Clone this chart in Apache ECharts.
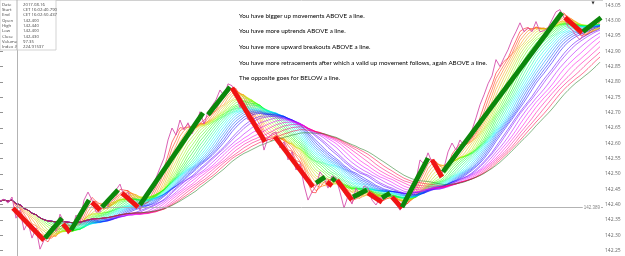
<!DOCTYPE html>
<html><head><meta charset="utf-8">
<script src="https://cdn.jsdelivr.net/npm/echarts@6/dist/echarts.min.js"></script>
<style>html,body{margin:0;padding:0;background:#fff}#c{width:625px;height:256px}</style>
</head><body><div id="c"></div>
<script>
// Price (one value per bar step)
const price = [
142.412,142.418,142.405,142.425,142.356,142.382,142.317,142.343,142.291,142.324,
142.255,142.284,142.297,142.330,142.314,142.369,142.343,142.304,142.317,142.366,
142.350,142.415,142.441,142.415,142.376,142.376,142.405,142.395,142.435,142.448,
142.467,142.428,142.441,142.402,142.408,142.382,142.415,142.428,142.461,142.487,
142.520,142.552,142.611,142.650,142.627,142.676,142.644,142.667,142.631,142.660,
142.703,142.663,142.703,142.722,142.742,142.774,142.755,142.794,142.788,142.755,
142.716,142.729,142.676,142.683,142.637,142.644,142.578,142.618,142.631,142.637,
142.585,142.605,142.546,142.572,142.513,142.533,142.464,142.415,142.441,142.461,
142.507,142.487,142.454,142.494,142.487,142.441,142.389,142.428,142.402,142.454,
142.428,142.461,142.454,142.415,142.399,142.422,142.422,142.441,142.428,142.402,
142.382,142.402,142.431,142.461,142.480,142.546,142.533,142.569,142.539,142.513,
142.487,142.520,142.572,142.601,142.578,142.611,142.592,142.618,142.644,142.683,
142.726,142.758,142.794,142.820,142.873,142.850,142.879,142.905,142.938,142.964,
142.993,142.964,142.977,142.964,142.997,142.964,142.967,142.977,143.003,143.029,
143.036,143.010,142.980,142.971,142.951,142.938,142.958,142.977,142.990,143.003,
143.013];

// Trend segments: [direction, startIndex, startPrice, endIndex, endPrice]
const trendSegments = [
['down',3.25,142.389,11,142.284],
['up',11.25,142.291,15.5,142.356],
['down',15.75,142.337,17.5,142.310],
['up',17.75,142.317,22.25,142.415],
['down',23,142.408,25,142.382],
['up',25.5,142.392,29.5,142.448],
['down',30.5,142.438,34.5,142.392],
['up',35,142.399,50.75,142.699],
['up',52,142.693,57.5,142.784],
['down',58,142.781,66.25,142.605],
['down',68.75,142.621,78.25,142.458],
['up',79,142.471,81.25,142.490],
['down',81.75,142.474,83,142.461],
['up',83,142.477,83.75,142.487],
['down',84.25,142.480,88,142.415],
['up',88.25,142.425,91.75,142.448],
['down',92,142.438,95.5,142.408],
['up',95.5,142.422,97.5,142.438],
['down',98,142.425,100.5,142.389],
['up',100.5,142.392,107,142.552],
['down',108,142.546,110.5,142.490],
['up',110.75,142.507,140.5,143.026],
['down',141.25,143.010,145.5,142.961],
['up',145.75,142.964,150.25,143.010]
];

// Simple moving average periods of the ribbon (fast -> slow)
const maPeriods = [3,4,5,6,7,8,9,10,11,12,13,14,15,16,17,18,19,20,21,22,23,25,26,28,30,32,34,36,38,40];

const infoLabels = ['Date','Start','End','Open','High','Low','Close','Volume','Index #'];
const infoValues = ['2017.08.16','CET 16:02:40.790','CET 16:02:50.437','142.400','142.440','142.400','142.430','97.35','224.91537'];

const notes = [
'You have bigger up movements ABOVE a line.',
'You have more uptrends ABOVE a line.',
'You have more upward breakouts ABOVE a line.',
'You have more retracements after which a valid up movement follows, again ABOVE a line.',
'The opposite goes for BELOW a line.'
];

const cursorIndex = 4.25;
const cursorPrice = 142.389;

function sma(src, n){
  const out = [];
  for (let i=0;i<src.length;i++){
    const s = Math.max(0, i-n+1); let sum = 0;
    for (let j=s;j<=i;j++) sum += src[j];
    out.push(sum/(i-s+1));
  }
  return out;
}
function maColor(k, total){
  if (k === total-1) return '#1f7a1f';
  const h = Math.round(k/(total-2)*345);
  return 'hsl(' + h + ',100%,' + (h>40 && h<80 ? 44 : 50) + '%)';
}

const series = [];
maPeriods.forEach((p,k)=>{
  const m = sma(price, p);
  series.push({type:'line', data:m.map((v,i)=>[i,v]), showSymbol:false, silent:true,
    lineStyle:{width:0.6, opacity:0.9, color:maColor(k, maPeriods.length)}, z:1});
});
series.push({type:'line', data:price.map((v,i)=>[i,v]), showSymbol:false, silent:true,
  lineStyle:{width:0.9, color:'#d64fab'}, z:3,
  markLine:{silent:true, symbol:'none', animation:false,
    lineStyle:{color:'#a0a0a0', width:0.8, type:'solid'},
    label:{show:false},
    data:[{xAxis:cursorIndex},
          {yAxis:cursorPrice, label:{show:true, position:'insideEnd', formatter:cursorPrice.toFixed(3),
            fontSize:4.5, color:'#888', backgroundColor:'#fff', padding:[0,1], distance:2}}]}
});
trendSegments.forEach(s=>{
  series.push({type:'line', data:[[s[1],s[2]],[s[3],s[4]]], showSymbol:false, silent:true,
    lineStyle:{width:4.8, color: s[0]==='up' ? '#0b870b' : '#f01414', cap:'butt'}, z:5});
});

const graphic = [];
graphic.push({type:'line', shape:{x1:0,y1:0.5,x2:603,y2:0.5}, style:{stroke:'#d0d0d0', lineWidth:1}, z:50});
graphic.push({type:'text', x:593, y:3, style:{text:'▼', font:'4px "DejaVu Sans"', fill:'#333', align:'center', verticalAlign:'middle'}, z:62});
graphic.push({type:'rect', shape:{x:0,y:0,width:56,height:50}, style:{fill:'#fff', stroke:'#c8c8c8', lineWidth:0.8}, z:60});
graphic.push({type:'line', shape:{x1:17,y1:0,x2:17,y2:50}, style:{stroke:'#a0a0a0', lineWidth:0.8}, z:61});
infoLabels.forEach((t,i)=>{
  graphic.push({type:'text', x:2, y:4.5+i*5.3, style:{text:t, font:'4.3px "Open Sans"', fill:'#444', verticalAlign:'middle'}, z:62});
  graphic.push({type:'text', x:23, y:4.5+i*5.3, style:{text:infoValues[i], font:'4.3px "Open Sans"', fill:'#444', verticalAlign:'middle'}, z:62});
});
notes.forEach((t,i)=>{
  graphic.push({type:'text', x:239, y:15.5+i*15.7, style:{text:t, font:'6.25px Lato', fill:'#000', verticalAlign:'middle'}, z:62});
});

const chart = echarts.init(document.getElementById('c'), null, {renderer:'canvas'});
chart.setOption({
  animation:false,
  backgroundColor:'#fff',
  grid:{left:0, right:22, top:-10, bottom:-10, outerBoundsMode:'none', containLabel:false},
  xAxis:{type:'value', min:0, max:150.75, show:false},
  yAxis:{type:'value', position:'right', min:142.20, max:143.10, interval:0.05,
    splitLine:{show:false}, axisLine:{show:false},
    axisTick:{show:true, length:3, lineStyle:{color:'#777', width:0.8}},
    axisLabel:{fontSize:5, color:'#666', margin:2, fontFamily:'Open Sans', formatter:v=>v.toFixed(2)}},
  series:series,
  graphic:graphic
});
</script></body></html>
